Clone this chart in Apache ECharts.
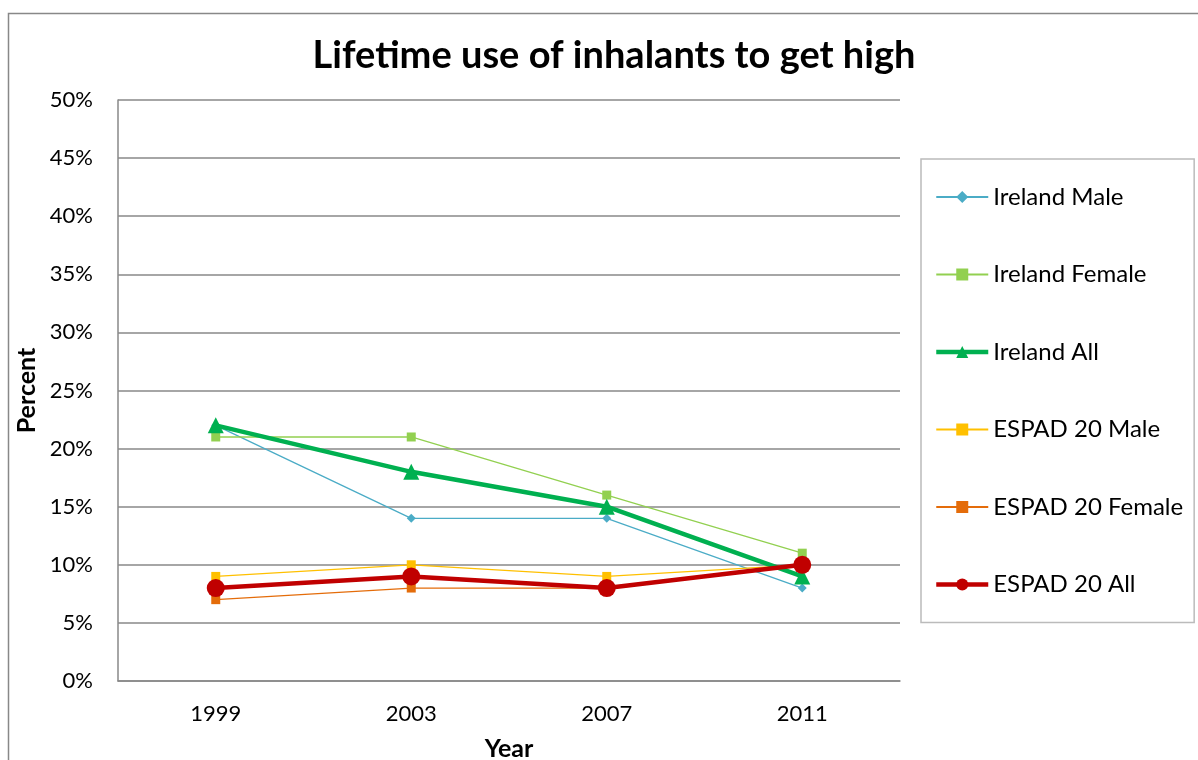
<!DOCTYPE html>
<html>
<head>
    <meta charset="utf-8">
    <title>ECharts</title>
    <script type="text/javascript" src="https://cdn.jsdelivr.net/npm/echarts@6/dist/echarts.min.js"></script>
    <style type="text/css">
        body { margin: 0; background: #fff; }
        #main { width: 1198px; height: 760px; }
    </style>
</head>
<body>
<div id="main"></div>
<script type="text/javascript">
    // 数据
    var years = ['1999', '2003', '2007', '2011'];
    var irelandMale = [22, 14, 14, 8];
    var irelandFemale = [21, 21, 16, 11];
    var irelandAll = [22, 18, 15, 9];
    var espadMale = [9, 10, 9, 10];
    var espadFemale = [7, 8, 8, 10];
    var espadAll = [8, 9, 8, 10];

    var font = 'Lato';
    var myChart = echarts.init(document.getElementById('main'));

    function thinLine(name, data, color, symbol, size) {
        return {
            name: name,
            type: 'line',
            data: data,
            symbol: symbol,
            symbolSize: size,
            lineStyle: { color: color, width: 1.3 },
            itemStyle: { color: color },
            z: 2
        };
    }

    function thickLine(name, data, color, symbol, size) {
        return {
            name: name,
            type: 'line',
            data: data,
            symbol: symbol,
            symbolSize: size,
            lineStyle: { color: color, width: 4.5 },
            itemStyle: { color: color },
            z: 3
        };
    }

    var option = {
        animation: false,
        backgroundColor: '#fff',
        textStyle: { fontFamily: font },
        graphic: [{
            type: 'rect',
            shape: { x: 8.5, y: 13.5, width: 1300, height: 900 },
            style: { fill: 'none', stroke: '#888', lineWidth: 1.5 },
            silent: true
        }],
        title: {
            text: 'Lifetime use of inhalants to get high',
            left: 609,
            textAlign: 'center',
            top: 32,
            textStyle: { fontFamily: font, fontSize: 38, fontWeight: 'bold', color: '#000' }
        },
        legend: {
            orient: 'vertical',
            left: 921,
            top: 159,
            padding: [24, 11, 24, 13],
            itemWidth: 52,
            itemHeight: 15,
            itemGap: 49.5,
            borderColor: '#bbb',
            borderWidth: 1.5,
            textStyle: { fontFamily: font, fontSize: 24, color: '#000', lineHeight: 28 },
            data: [
                'Ireland Male',
                'Ireland Female',
                { name: 'Ireland All', lineStyle: { width: 4.5 } },
                'ESPAD 20 Male',
                'ESPAD 20 Female',
                { name: 'ESPAD 20 All', lineStyle: { width: 4.5 } }
            ]
        },
        grid: {
            left: 118,
            top: 100,
            right: 298,
            bottom: 79,
            outerBoundsMode: 'none'
        },
        xAxis: {
            type: 'category',
            data: years,
            name: 'Year',
            nameLocation: 'middle',
            nameGap: 55,
            nameTextStyle: { fontFamily: font, fontSize: 25, fontWeight: 'bold', color: '#000' },
            axisLine: { lineStyle: { color: '#888', width: 1.5 } },
            axisTick: { show: false },
            axisLabel: { fontSize: 22, color: '#000', margin: 22 }
        },
        yAxis: {
            type: 'value',
            min: 0,
            max: 50,
            interval: 5,
            name: 'Percent',
            nameLocation: 'middle',
            nameGap: 77,
            nameTextStyle: { fontFamily: font, fontSize: 25, fontWeight: 'bold', color: '#000' },
            axisLine: { show: true, lineStyle: { color: '#888', width: 1.5 } },
            axisTick: { show: false },
            splitLine: { lineStyle: { color: '#888', width: 1.5 } },
            axisLabel: { fontSize: 22, color: '#000', margin: 25, formatter: '{value}%' }
        },
        series: [
            thinLine('Ireland Male', irelandMale, '#4BACC6', 'diamond', 9),
            thinLine('Ireland Female', irelandFemale, '#92D050', 'rect', 9),
            thickLine('Ireland All', irelandAll, '#00B050', 'triangle', 16),
            thinLine('ESPAD 20 Male', espadMale, '#FFC000', 'rect', 9),
            thinLine('ESPAD 20 Female', espadFemale, '#E46C0A', 'rect', 9),
            thickLine('ESPAD 20 All', espadAll, '#C00000', 'circle', 18)
        ]
    };

    myChart.setOption(option);
</script>
</body>
</html>
